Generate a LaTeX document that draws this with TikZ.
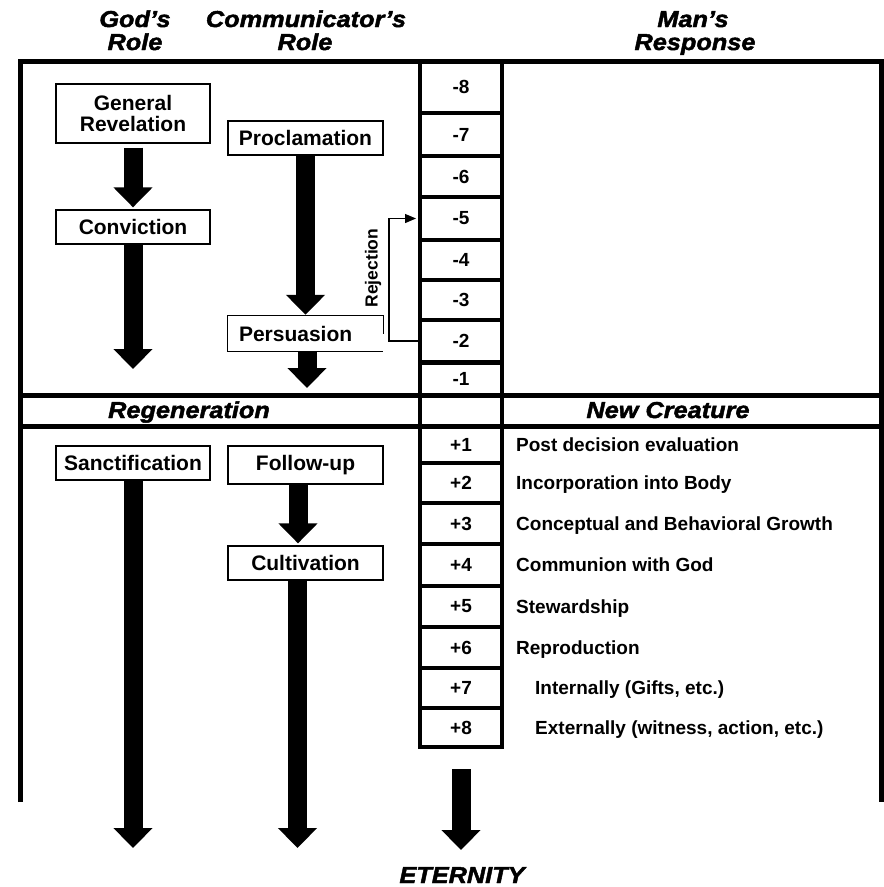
\documentclass[tikz,border=0pt]{standalone}
\usepackage{fontspec}
\setmainfont{Liberation Sans}
\newfontfamily\hdrfont[FakeStretch=1.1,FakeBold=2]{Liberation Sans}
\usetikzlibrary{arrows.meta}
\begin{document}
\begin{tikzpicture}[x=1pt,y=-1pt,
  frame/.style={line width=5pt},
  cell/.style={draw, line width=4pt, minimum width=82pt, inner sep=0pt, font=\bfseries\fontsize{19}{21}\selectfont},
  box/.style={draw, line width=1.3pt, inner sep=0pt, align=center, font=\bfseries\fontsize{21}{21}\selectfont},
  blk/.style={line width=19pt, -{Triangle[length=20pt,width=38pt]}},
  hdr/.style={font=\hdrfont\bfseries\itshape\fontsize{23}{25}\selectfont, inner sep=0pt, anchor=base},
  lst/.style={font=\bfseries\fontsize{19}{21}\selectfont, inner sep=0pt, anchor=base west},
  rej/.style={line width=1.3pt, -{Triangle[length=11pt,width=9pt]}}
]
\useasboundingbox (0,0) rectangle (884,887);

% headers
\node[hdr] (h1a) at (135,27) {God’s};
\node[hdr] (h1b) at (135,50) {Role};
\node[hdr] (h2a) at (306,27) {Communicator’s};
\node[hdr] (h2b) at (305,50) {Role};
\node[hdr] (h3a) at (693,27) {Man’s};
\node[hdr] (h3b) at (695,50) {Response};

% frame
\draw[frame] (20.5,802) -- (20.5,61.5) -- (881,61.5) -- (881,802);
\draw[frame] (20.5,395.5) -- (881,395.5);
\draw[frame] (20.5,426) -- (881,426);

% column cells
\node[cell, minimum height=52pt] (m8) at (461,87) {-8};
\node[cell, minimum height=43pt] (m7) at (461,134.5) {-7};
\node[cell, minimum height=41pt] (m6) at (461,176.5) {-6};
\node[cell, minimum height=43pt] (m5) at (461,218.5) {-5};
\node[cell, minimum height=40pt] (m4) at (461,260) {-4};
\node[cell, minimum height=40pt] (m3) at (461,300) {-3};
\node[cell, minimum height=42pt] (m2) at (461,341) {-2};
\node[cell, minimum height=33pt] (m1) at (461,379) {-1};
\node[cell, minimum height=30.5pt] (mb) at (461,410.75) {};
\node[cell, minimum height=37pt] (p1) at (461,444.5) {+1};
\node[cell, minimum height=40pt] (p2) at (461,483) {+2};
\node[cell, minimum height=41pt] (p3) at (461,523.5) {+3};
\node[cell, minimum height=42pt] (p4) at (461,565) {+4};
\node[cell, minimum height=41pt] (p5) at (461,606.5) {+5};
\node[cell, minimum height=41pt] (p6) at (461,647.5) {+6};
\node[cell, minimum height=40pt] (p7) at (461,688) {+7};
\node[cell, minimum height=39pt] (p8) at (461,727.5) {+8};

% band labels
\node[hdr] (regen) at (189,418) {Regeneration};
\node[hdr] (newc) at (668,418) {New Creature};
\node[hdr] (etern) at (462,883) {ETERNITY};

% boxes upper
\node[box, minimum width=154pt, minimum height=59pt] (gr) at (133,113.5) {General\\Revelation};
\node[box, minimum width=155pt, minimum height=34pt] (pro) at (305.5,138) {Proclamation};
\node[box, minimum width=154pt, minimum height=34pt] (conv) at (133,227) {Conviction};
\node[font=\bfseries\fontsize{21}{21}\selectfont, minimum width=155pt, minimum height=35pt,
      text width=133pt, inner xsep=11pt, inner ysep=0pt, align=left] (pers) at (305.5,333.5) {Persuasion};
\draw[line width=1.3pt] ([yshift=-18pt]pers.north east) -- (pers.north east) -- (pers.north west)
  -- (pers.south west) -- (pers.south east);

% boxes lower
\node[box, minimum width=154pt, minimum height=34pt] (san) at (133,463) {Sanctification};
\node[box, minimum width=155pt, minimum height=38pt] (fol) at (305.5,465) {Follow-up};
\node[box, minimum width=155pt, minimum height=34pt] (cult) at (305.5,563) {Cultivation};

% block arrows
\coordinate (convend) at (133,369);
\coordinate (persend) at (307,388);
\coordinate (sanend) at (133,848);
\coordinate (cultend) at (297.5,848);
\coordinate (eterend) at (461,850);
\draw[blk, shorten <=4pt, shorten >=2pt] (gr.south) -- (conv.north);
\draw[blk] (conv.south) -- (convend);
\draw[blk, shorten >=1pt] (pro.south) -- (pers.north);
\draw[blk] (pers.south -| persend) -- (persend);
\draw[blk] (san.south) -- (sanend);
\draw[blk, shorten >=2pt] ([xshift=-7.5pt]fol.south) -- ([xshift=-7.5pt]cult.north);
\draw[blk] (cult.south -| cultend) -- (cultend);
\draw[blk, shorten <=20pt] (p8.south) -- (eterend);

% rejection
\draw[rej, shorten >=2pt] (m2.west) -- ++(-29,0) |- (m5.west);
\node[font=\bfseries\fontsize{17.5}{19}\selectfont, rotate=90, inner sep=0pt] (rejl) at (373,268) {Rejection};

% list
\node[lst] (t1) at (516,451) {Post decision evaluation};
\node[lst] (t2) at (516,489.5) {Incorporation into Body};
\node[lst] (t3) at (516,530) {Conceptual and Behavioral Growth};
\node[lst] (t4) at (516,571.5) {Communion with God};
\node[lst] (t5) at (516,613) {Stewardship};
\node[lst] (t6) at (516,654) {Reproduction};
\node[lst] (t7) at (535,694.5) {Internally (Gifts, etc.)};
\node[lst] (t8) at (535,734) {Externally (witness, action, etc.)};
\end{tikzpicture}
\end{document}
